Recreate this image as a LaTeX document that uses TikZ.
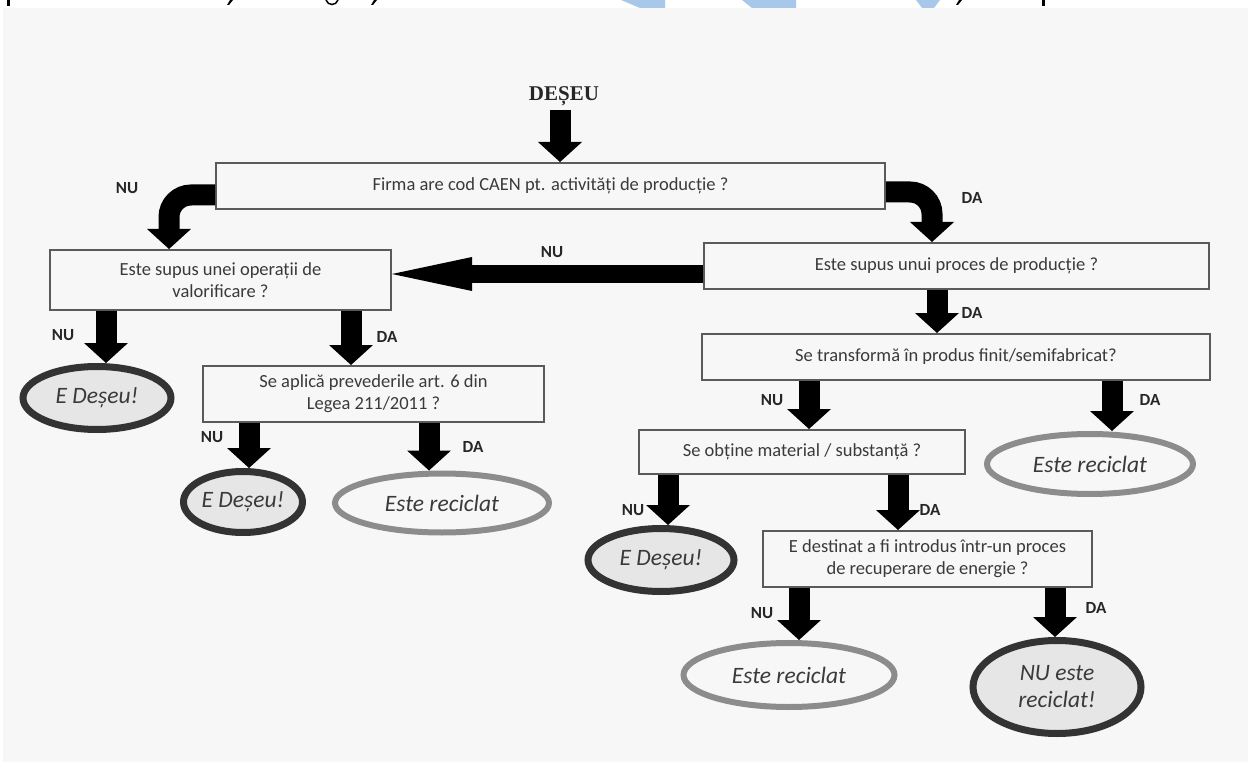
\documentclass[tikz,border=0pt]{standalone}
\usepackage{fontspec}
\setmainfont{Carlito}
\newfontfamily\titlefont{Liberation Serif}
\usetikzlibrary{arrows.meta,shapes.geometric}
\definecolor{bg}{HTML}{F7F7F7}
\definecolor{boxline}{HTML}{5A5A5A}
\definecolor{txt}{HTML}{3A3A3A}
\definecolor{darkring}{HTML}{333333}
\definecolor{darkfill}{HTML}{E6E6E6}
\definecolor{grayring}{HTML}{8C8C8C}
\definecolor{hl}{HTML}{A8C8EA}
\tikzset{
  qbox/.style={draw=boxline, line width=2pt, fill=bg, rectangle, inner sep=0pt, align=center,
    font=\fontsize{18.5}{22}\selectfont, text=txt},
  enddark/.style={ellipse, draw=darkring, line width=7pt, fill=darkfill, inner sep=0pt, align=center,
    font=\fontsize{23.5}{27}\selectfont\itshape, text=txt},
  endgray/.style={ellipse, draw=grayring, line width=6pt, fill=bg, inner sep=0pt, align=center,
    font=\fontsize{23.5}{27}\selectfont\itshape, text=txt},
  lbl/.style={font=\fontsize{17}{17}\selectfont\bfseries, text=black!85, inner sep=0pt},
  bigarrow/.style={line width=21pt, -{Triangle[width=44pt,length=20pt,line width=0pt]}},
  sidearrow/.style={line width=18pt, -{Triangle[width=34pt,length=80pt,line width=0pt]}},
}
\begin{document}
\begin{tikzpicture}[x=1pt,y=-1pt]
\useasboundingbox (0,0) rectangle (1248,762);
\fill[white] (0,0) rectangle (1248,762);
\fill[bg] (3,8) rectangle (1248,762);
% fragments of the text line above
\fill[hl] (621,0) -- (665,0) -- (665,8) -- (640,8) -- cycle;
\fill[hl] (742,0) -- (796,0) -- (796,8) -- (752,8) -- cycle;
\fill[hl] (916,0) -- (940,0) -- (934,8) -- (922,8) -- cycle;
\fill[black] (7,0) rectangle (10,6);
\fill[black] (230,0) -- (233,0) -- (229,5) -- (227,5) -- cycle;
\draw[line width=1.5pt] (326,0) .. controls (328,6) and (336,6) .. (338,0);
\fill[black] (374,0) -- (377,0) -- (373,5) -- (371,5) -- cycle;
\fill[black] (959,0) -- (962,0) -- (958,5) -- (956,5) -- cycle;
\fill[black] (1042,0) rectangle (1045,6);

% title
\node[font=\titlefont\bfseries\fontsize{21}{21}\selectfont, inner sep=0pt, text=black!85] (deseu) at (564,96) {DEȘEU};

% question boxes
\node[qbox, minimum width=669pt, minimum height=46pt] (q1) at (550.5,186) {Firma are cod CAEN pt. activități de producție ?};
\node[qbox, minimum width=341pt, minimum height=60pt] (q2) at (220.5,280) {Este supus unei operații de\\valorificare ?};
\node[qbox, minimum width=505pt, minimum height=46pt] (q3) at (956.5,266) {Este supus unui proces de producție ?};
\node[qbox, minimum width=341pt, minimum height=56pt] (q4) at (373.5,394) {Se aplică prevederile art. 6 din\\Legea 211/2011 ?};
\node[qbox, minimum width=508pt, minimum height=46pt] (q5) at (956,357) {Se transformă în produs finit/semifabricat?};
\node[qbox, minimum width=326pt, minimum height=44pt] (q6) at (802,452) {Se obține material / substanță ?};
\node[qbox, minimum width=329pt, minimum height=56pt] (q7) at (927.5,559) {E destinat a fi introdus într-un proces\\de recuperare de energie ?};

% end ellipses
\node[enddark, minimum width=148pt, minimum height=63pt] (e1) at (97,398) {E Deșeu!};
\node[enddark, minimum width=119pt, minimum height=61pt] (e2) at (243,502) {E Deșeu!};
\node[endgray, minimum width=214pt, minimum height=59pt] (e3) at (442,503) {Este reciclat};
\node[endgray, minimum width=206pt, minimum height=60pt] (e4) at (1090,464) {Este reciclat};
\node[enddark, minimum width=146pt, minimum height=63pt] (e5) at (661,560) {E Deșeu!};
\node[endgray, minimum width=211pt, minimum height=64pt] (e6) at (789,675) {Este reciclat};
\node[enddark, minimum width=168pt, minimum height=93pt] (e7) at (1057,687) {NU este\\reciclat!};

% arrow columns
\coordinate (x0) at (560,0);
\coordinate (x1) at (106,0);
\coordinate (x2) at (351,0);
\coordinate (x3) at (249,0);
\coordinate (x4) at (429,0);
\coordinate (x5) at (937,0);
\coordinate (x6) at (809,0);
\coordinate (x7) at (1112,0);
\coordinate (x8) at (668,0);
\coordinate (x9) at (898,0);
\coordinate (x10) at (799,0);
\coordinate (x11) at (1055,0);
\coordinate (c1) at (169,195);
\coordinate (c2) at (932,192);
\coordinate (c3) at (0,274);

\draw[bigarrow] ([yshift=-4pt]x0 |- deseu.south) -- (x0 |- q1.north);
\draw[bigarrow, rounded corners=22pt] (q1.west |- c1) -| (c1 |- q2.north);
\draw[bigarrow, rounded corners=22pt] (q1.east |- c2) -| (c2 |- q3.north);
\draw[sidearrow] (q3.west |- c3) -- (q2.east |- c3);
\draw[bigarrow] (x1 |- q2.south) -- (x1 |- e1.north);
\draw[bigarrow] (x2 |- q2.south) -- (x2 |- q4.north);
\draw[bigarrow] (x3 |- q4.south) -- (x3 |- e2.north);
\draw[bigarrow] (x4 |- q4.south) -- (x4 |- e3.north);
\draw[bigarrow] (x5 |- q3.south) -- (x5 |- q5.north);
\draw[bigarrow] (x6 |- q5.south) -- (x6 |- q6.north);
\draw[bigarrow] (x7 |- q5.south) -- (x7 |- e4.north);
\draw[bigarrow] (x8 |- q6.south) -- (x8 |- e5.north);
\draw[bigarrow] (x9 |- q6.south) -- (x9 |- q7.north);
\draw[bigarrow] (x10 |- q7.south) -- (x10 |- e6.north);
\draw[bigarrow] (x11 |- q7.south) -- (x11 |- e7.north);

% labels
\node[lbl] (l1) at (127,188) {NU};
\node[lbl] (l2) at (972,198) {DA};
\node[lbl] (l3) at (552,252) {NU};
\node[lbl] (l4) at (63,335) {NU};
\node[lbl] (l5) at (387,337) {DA};
\node[lbl] (l6) at (212,437) {NU};
\node[lbl] (l7) at (473,447) {DA};
\node[lbl] (l8) at (972,313) {DA};
\node[lbl] (l9) at (772,400) {NU};
\node[lbl] (l10) at (1150,400) {DA};
\node[lbl] (l11) at (633,510) {NU};
\node[lbl] (l12) at (930,510) {DA};
\node[lbl] (l13) at (762,613) {NU};
\node[lbl] (l14) at (1096,608) {DA};
\end{tikzpicture}
\end{document}
